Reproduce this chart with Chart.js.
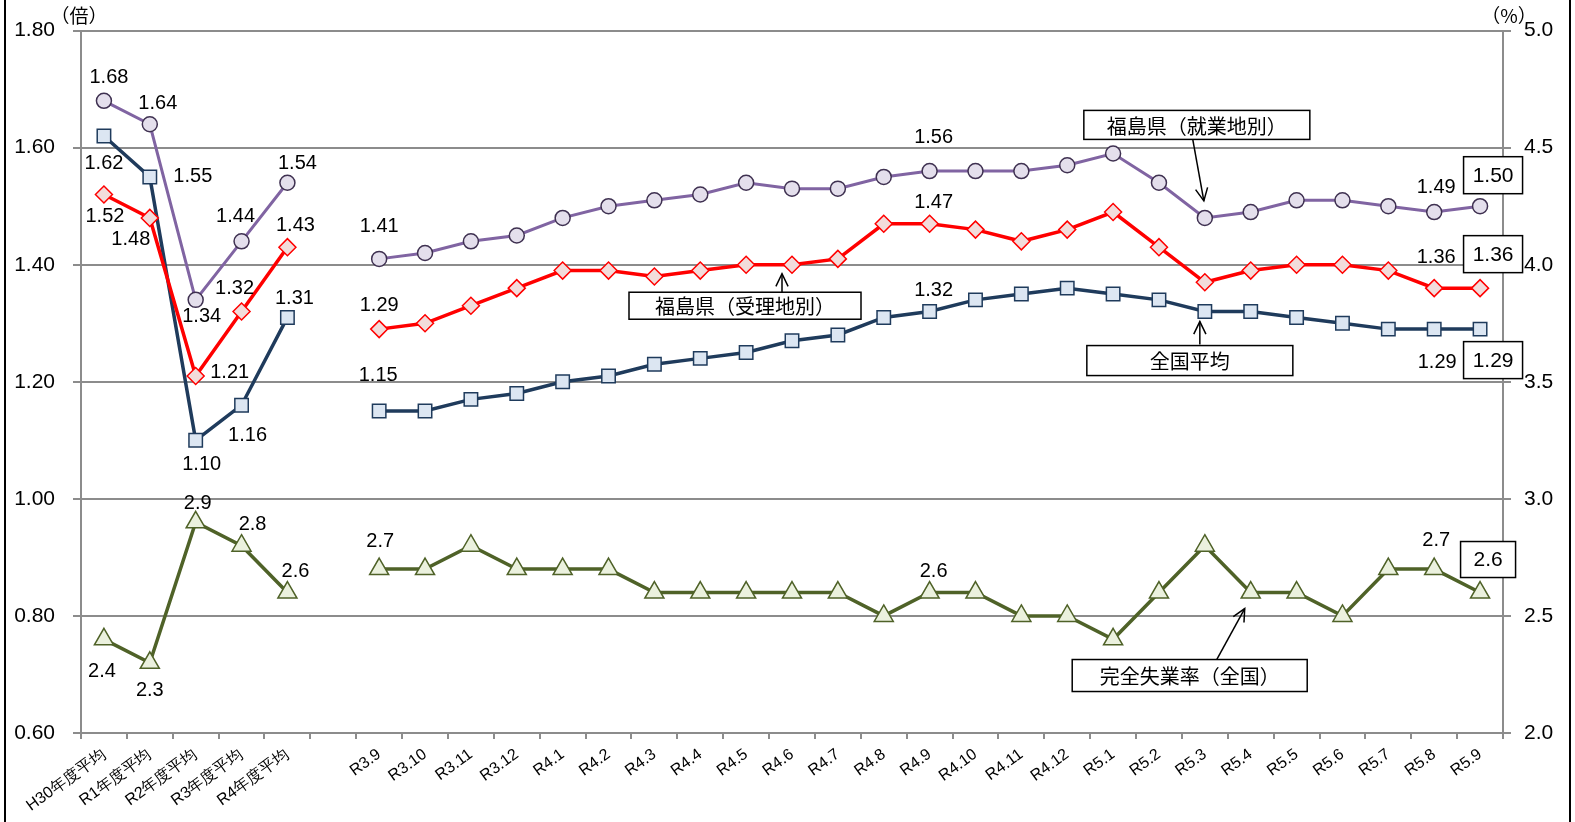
<!DOCTYPE html>
<html>
<head>
<meta charset="utf-8">
<script src="https://cdn.jsdelivr.net/npm/chart.js@4"></script>
<style>
  html, body { margin: 0; padding: 0; background: #fff; }
  #wrap { position: relative; width: 1575px; height: 822px; }
</style>
</head>
<body>
<div id="wrap"><canvas id="jobChart" width="1575" height="822"></canvas></div>
<script>
// ---- data ----
const categories = [
  "H30年度平均", "R1年度平均", "R2年度平均", "R3年度平均", "R4年度平均", "",
  "R3.9", "R3.10", "R3.11", "R3.12",
  "R4.1", "R4.2", "R4.3", "R4.4", "R4.5", "R4.6", "R4.7", "R4.8", "R4.9", "R4.10", "R4.11", "R4.12",
  "R5.1", "R5.2", "R5.3", "R5.4", "R5.5", "R5.6", "R5.7", "R5.8", "R5.9"
];

// 福島県（就業地別）
const fukushimaWork = [1.68, 1.64, 1.34, 1.44, 1.54, null,
  1.41, 1.42, 1.44, 1.45,
  1.48, 1.50, 1.51, 1.52, 1.54, 1.53, 1.53, 1.55, 1.56, 1.56, 1.56, 1.57,
  1.59, 1.54, 1.48, 1.49, 1.51, 1.51, 1.50, 1.49, 1.50];

// 福島県（受理地別）
const fukushimaRecv = [1.52, 1.48, 1.21, 1.32, 1.43, null,
  1.29, 1.30, 1.33, 1.36,
  1.39, 1.39, 1.38, 1.39, 1.40, 1.40, 1.41, 1.47, 1.47, 1.46, 1.44, 1.46,
  1.49, 1.43, 1.37, 1.39, 1.40, 1.40, 1.39, 1.36, 1.36];

// 全国平均
const nationalAvg = [1.62, 1.55, 1.10, 1.16, 1.31, null,
  1.15, 1.15, 1.17, 1.18,
  1.20, 1.21, 1.23, 1.24, 1.25, 1.27, 1.28, 1.31, 1.32, 1.34, 1.35, 1.36,
  1.35, 1.34, 1.32, 1.32, 1.31, 1.30, 1.29, 1.29, 1.29];

// 完全失業率（全国） - right axis, %
const unemployment = [2.4, 2.3, 2.9, 2.8, 2.6, null,
  2.7, 2.7, 2.8, 2.7,
  2.7, 2.7, 2.6, 2.6, 2.6, 2.6, 2.6, 2.5, 2.6, 2.6, 2.5, 2.5,
  2.4, 2.6, 2.8, 2.6, 2.6, 2.5, 2.7, 2.7, 2.6];

const leftTicks = [0.60, 0.80, 1.00, 1.20, 1.40, 1.60, 1.80];
const rightTicks = [2.0, 2.5, 3.0, 3.5, 4.0, 4.5, 5.0];

// which points get a value label: [dataset, index, dx, dy, boxed]
const labelSpots = [
  [0, 0, 5, -24], [0, 1, 8, -22], [0, 2, 6, 16], [0, 3, -6, -26], [0, 4, 10, -20],
  [0, 6, 0, -33], [0, 18, 4, -35], [0, 29, 2, -26], [0, 30, 13, -31, true],
  [1, 0, 1, 21], [1, 1, -19, 21], [1, 2, 34, -4], [1, 3, -7, -24], [1, 4, 8, -23],
  [1, 6, 0, -25], [1, 18, 4, -22], [1, 29, 2, -32], [1, 30, 13, -34, true],
  [2, 0, 0, 27], [2, 1, 43, -1], [2, 2, 6, 23], [2, 3, 6, 29], [2, 4, 7, -20],
  [2, 6, -1, -37], [2, 18, 4, -22], [2, 29, 3, 32], [2, 30, 13, 31, true],
  [3, 0, -2, 31], [3, 1, 0, 27], [3, 2, 2, -20], [3, 3, 11, -22], [3, 4, 8, -22],
  [3, 6, 1, -29], [3, 18, 4, -22], [3, 29, 2, -30], [3, 30, 8, -33, true]
];

// callouts: text, dataset, index, box centre offset, box size, arrow start (rel. box centre), arrow tip (rel. point)
const callouts = [
  { text: "福島県（就業地別）", ds: 0, idx: 24, bx: -8, by: -93, w: 226, h: 29, sx: -4, sy: 15, tx: -1, ty: -17 },
  { text: "福島県（受理地別）", ds: 1, idx: 15, bx: -47, by: 41, w: 232, h: 27, sx: 37, sy: -13, tx: -10, ty: 9 },
  { text: "全国平均", ds: 2, idx: 24, bx: -15, by: 49, w: 206, h: 30, sx: 10, sy: -16, tx: -5, ty: 10 },
  { text: "完全失業率（全国）", ds: 3, idx: 25, bx: -61, by: 83, w: 235, h: 32, sx: 27, sy: -16, tx: -6, ty: 16 }
];

const NUM_FONT = '"Liberation Sans", Arial, sans-serif';
const JP_FONT = '"Noto Sans CJK JP", "Noto Sans", sans-serif';

function fmt(ds, v) {
  return ds === 3 ? v.toFixed(1) : v.toFixed(2);
}

function arrowHead(ctx, x0, y0, x1, y1, len) {
  const a = Math.atan2(y1 - y0, x1 - x0);
  ctx.beginPath();
  ctx.moveTo(x1 - len * Math.cos(a - 0.45), y1 - len * Math.sin(a - 0.45));
  ctx.lineTo(x1, y1);
  ctx.lineTo(x1 - len * Math.cos(a + 0.45), y1 - len * Math.sin(a + 0.45));
  ctx.stroke();
}

const annotatePlugin = {
  id: "annotate",
  afterDatasetsDraw(chart) {
    const ctx = chart.ctx;
    ctx.save();

    // value labels
    labelSpots.forEach(([ds, idx, dx, dy, boxed]) => {
      const el = chart.getDatasetMeta(ds).data[idx];
      const v = chart.data.datasets[ds].data[idx];
      const x = el.x + dx, y = el.y + dy;
      const txt = fmt(ds, v);
      if (boxed) {
        const w = ds === 3 ? 55 : 59, h = ds === 3 ? 36 : 37;
        ctx.fillStyle = "#fff";
        ctx.fillRect(x - w / 2, y - h / 2, w, h);
        ctx.strokeStyle = "#000";
        ctx.lineWidth = 1.5;
        ctx.strokeRect(x - w / 2, y - h / 2, w, h);
        ctx.font = "21px " + NUM_FONT;
      } else {
        ctx.font = "20px " + NUM_FONT;
      }
      ctx.fillStyle = "#000";
      ctx.textAlign = "center";
      ctx.textBaseline = "middle";
      ctx.fillText(txt, x, y + 1);
    });

    // callout boxes with arrows
    callouts.forEach(c => {
      const el = chart.getDatasetMeta(c.ds).data[c.idx];
      const cx = el.x + c.bx, cy = el.y + c.by;
      ctx.fillStyle = "#fff";
      ctx.fillRect(cx - c.w / 2, cy - c.h / 2, c.w, c.h);
      ctx.strokeStyle = "#000";
      ctx.lineWidth = 1.5;
      ctx.strokeRect(cx - c.w / 2, cy - c.h / 2, c.w, c.h);
      ctx.fillStyle = "#000";
      ctx.font = "20px " + JP_FONT;
      ctx.textAlign = "center";
      ctx.textBaseline = "middle";
      ctx.fillText(c.text, cx, cy + 1);

      const x0 = cx + c.sx, y0 = cy + c.sy;
      const x1 = el.x + c.tx, y1 = el.y + c.ty;
      ctx.lineWidth = 1.5;
      ctx.beginPath();
      ctx.moveTo(x0, y0);
      ctx.lineTo(x1, y1);
      ctx.stroke();
      arrowHead(ctx, x0, y0, x1, y1, 14);
    });

    // unit labels
    ctx.fillStyle = "#000";
    ctx.font = "19px " + JP_FONT;
    ctx.textAlign = "center";
    ctx.textBaseline = "middle";
    ctx.fillText("（倍）", 79, 16);
    ctx.fillText("（%）", 1509, 16);

    // outer frame lines
    ctx.strokeStyle = "#000";
    ctx.lineWidth = 2;
    ctx.beginPath();
    ctx.moveTo(5, 0); ctx.lineTo(5, 822);
    ctx.moveTo(1570, 0); ctx.lineTo(1570, 822);
    ctx.stroke();
    ctx.restore();
  }
};

function lineSet(label, data, color, width, style, radius, fill, border, axis) {
  return {
    label, data, yAxisID: axis,
    borderColor: color, borderWidth: width,
    pointStyle: style, pointRadius: radius, pointHoverRadius: radius,
    pointBackgroundColor: fill, pointBorderColor: border, pointBorderWidth: 1.5,
    spanGaps: false, tension: 0, fill: false
  };
}

const gridGray = "#8c8c8c";

new Chart(document.getElementById("jobChart"), {
  type: "line",
  data: {
    labels: categories,
    datasets: [
      lineSet("福島県（就業地別）", fukushimaWork, "#8064A2", 3, "circle", 7.5, "#E4DFEC", "#3F3151", "y"),
      lineSet("福島県（受理地別）", fukushimaRecv, "#FF0000", 3.5, "rectRot", 8.5, "#F2DCDB", "#FF0000", "y"),
      lineSet("全国平均", nationalAvg, "#1F3B5C", 3.5, "rect", 9.5, "#DCE6F2", "#1F3B5C", "y"),
      lineSet("完全失業率（全国）", unemployment, "#4F6228", 3.5, "triangle", 11, "#EBF1DE", "#4F6228", "y2")
    ]
  },
  options: {
    responsive: false,
    animation: false,
    events: [],
    layout: { padding: { top: 29, left: 0, right: 0, bottom: 0 } },
    plugins: { legend: { display: false }, tooltip: { enabled: false } },
    scales: {
      x: {
        offset: true,
        grid: { display: true, drawOnChartArea: false, offset: true, tickLength: 6, color: gridGray, lineWidth: 2 },
        border: { color: gridGray, width: 2 },
        ticks: {
          autoSkip: false, minRotation: 36, maxRotation: 36, padding: 6,
          color: "#000", font: { size: 16, family: NUM_FONT }
        },
        afterFit: s => { s.height = 89; }
      },
      y: {
        position: "left",
        min: leftTicks[0], max: leftTicks[leftTicks.length - 1],
        afterBuildTicks: s => { s.ticks = leftTicks.map(v => ({ value: v })); },
        ticks: { callback: v => Number(v).toFixed(2), color: "#000", padding: 18, font: { size: 21, family: NUM_FONT } },
        grid: { color: gridGray, lineWidth: 2, tickLength: 8 },
        border: { color: gridGray, width: 2 },
        afterFit: s => { s.width = 81; }
      },
      y2: {
        position: "right",
        min: rightTicks[0], max: rightTicks[rightTicks.length - 1],
        afterBuildTicks: s => { s.ticks = rightTicks.map(v => ({ value: v })); },
        ticks: { callback: v => Number(v).toFixed(1), color: "#000", padding: 13, font: { size: 21, family: NUM_FONT } },
        grid: { drawOnChartArea: false, color: gridGray, lineWidth: 2, tickLength: 8 },
        border: { color: gridGray, width: 2 },
        afterFit: s => { s.width = 72; }
      }
    }
  },
  plugins: [annotatePlugin]
});
</script>
</body>
</html>
